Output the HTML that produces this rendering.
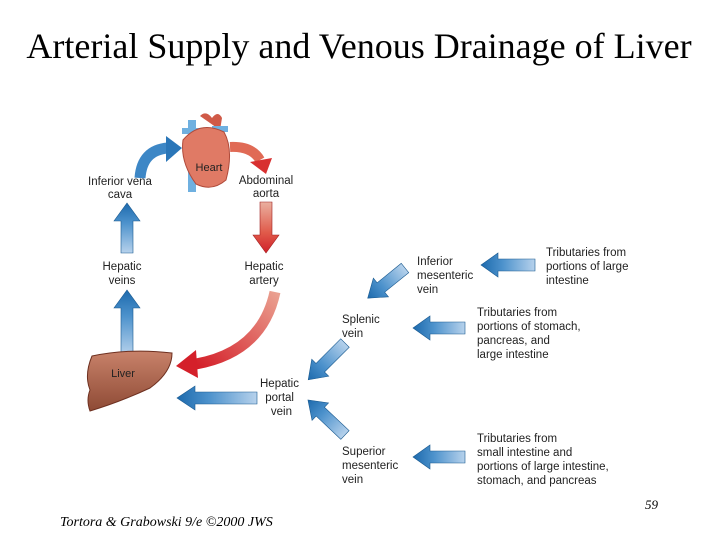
<!DOCTYPE html>
<html><head><meta charset="utf-8"><style>
html,body{margin:0;padding:0;background:#fff}
svg{display:block}
.t{font-family:"Liberation Sans",Arial,sans-serif;font-size:11.5px;fill:#222}
</style></head><body>
<svg width="720" height="540" viewBox="0 0 720 540" xmlns="http://www.w3.org/2000/svg">
<defs>
<linearGradient id="b" x1="0" y1="0" x2="1" y2="0"><stop offset="0" stop-color="#b7d2ec"/><stop offset="0.6" stop-color="#4d92cc"/><stop offset="1" stop-color="#1d6aad"/></linearGradient>
<linearGradient id="r" x1="0" y1="0" x2="1" y2="0"><stop offset="0" stop-color="#eab0a0"/><stop offset="0.6" stop-color="#e05a4a"/><stop offset="1" stop-color="#d0202a"/></linearGradient>
<linearGradient id="rc" x1="1" y1="0" x2="0" y2="1"><stop offset="0" stop-color="#eaa090"/><stop offset="1" stop-color="#d4202a"/></linearGradient>
<linearGradient id="lv" x1="0" y1="0" x2="0" y2="1"><stop offset="0" stop-color="#c8826a"/><stop offset="1" stop-color="#8e4a35"/></linearGradient>
</defs>
<text x="359" y="58" text-anchor="middle" font-family="Liberation Serif,serif" font-size="36" fill="#000">Arterial Supply and Venous Drainage of Liver</text>

<g transform="translate(127,253) rotate(-90)"><polygon points="0,-6 32,-6 32,-13 50,0 32,13 32,6 0,6" fill="url(#b)" stroke="#1a5a90" stroke-width="0.6"/></g>
<g transform="translate(127,355) rotate(-90)"><polygon points="0,-6 47,-6 47,-13 65,0 47,13 47,6 0,6" fill="url(#b)" stroke="#1a5a90" stroke-width="0.6"/></g>
<g transform="translate(266,202) rotate(90)"><polygon points="0,-6 33,-6 33,-13 51,0 33,13 33,6 0,6" fill="url(#r)" stroke="#a02020" stroke-width="0.6"/></g>
<g transform="translate(257,398) rotate(180)"><polygon points="0,-6 62,-6 62,-12 80,0 62,12 62,6 0,6" fill="url(#b)" stroke="#1a5a90" stroke-width="0.6"/></g>
<g transform="translate(405,268) rotate(141)"><polygon points="0,-6 31,-6 31,-12 48,0 31,12 31,6 0,6" fill="url(#b)" stroke="#1a5a90" stroke-width="0.6"/></g>
<g transform="translate(535,265) rotate(180)"><polygon points="0,-6 37,-6 37,-12 54,0 37,12 37,6 0,6" fill="url(#b)" stroke="#1a5a90" stroke-width="0.6"/></g>
<g transform="translate(345,343) rotate(135)"><polygon points="0,-6 35,-6 35,-12 52,0 35,12 35,6 0,6" fill="url(#b)" stroke="#1a5a90" stroke-width="0.6"/></g>
<g transform="translate(465,328) rotate(180)"><polygon points="0,-6 35,-6 35,-12 52,0 35,12 35,6 0,6" fill="url(#b)" stroke="#1a5a90" stroke-width="0.6"/></g>
<g transform="translate(345,435) rotate(223.4)"><polygon points="0,-6 34,-6 34,-12 51,0 34,12 34,6 0,6" fill="url(#b)" stroke="#1a5a90" stroke-width="0.6"/></g>
<g transform="translate(465,457) rotate(180)"><polygon points="0,-6 35,-6 35,-12 52,0 35,12 35,6 0,6" fill="url(#b)" stroke="#1a5a90" stroke-width="0.6"/></g>

<path d="M140,178 Q142,150 168,148" fill="none" stroke="#3d87c6" stroke-width="11"/>
<polygon points="166,136 182,148 166,162" fill="#2a76b8"/>
<path d="M230,147 Q252,146 260,160" fill="none" stroke="#e06a55" stroke-width="10"/>
<polygon points="250,162 272,158 266,174" fill="#d83030"/>
<path d="M275,292 Q262,352 196,364" fill="none" stroke="url(#rc)" stroke-width="11"/>
<polygon points="196,350 176,366 198,378" fill="#d4202a"/>

<rect x="188" y="120" width="8" height="72" fill="#6fb0e0"/>
<rect x="182" y="128" width="18" height="6" fill="#6fb0e0"/>
<path d="M200,116 q6,-6 12,2 q6,-8 10,0 l-2,12 z" fill="#d05a48"/>
<rect x="212" y="126" width="16" height="6" fill="#6fb0e0"/>
<path d="M183,140 Q200,120 224,132 Q234,150 226,180 Q212,192 196,184 Q180,162 183,140 Z" fill="#e07a65" stroke="#b04a3a" stroke-width="1"/>
<text x="209" y="171" text-anchor="middle" class="t" style="font-size:11px">Heart</text>

<path d="M92,356 Q130,348 172,353 Q172,372 150,388 Q120,402 90,411 Q86,400 90,390 Q84,375 92,356 Z" fill="url(#lv)" stroke="#6e3020" stroke-width="1"/>
<text x="123" y="377" text-anchor="middle" class="t" style="font-size:11px">Liver</text>

<g class="t" text-anchor="middle">
<text x="120" y="185">Inferior vena</text><text x="120" y="198">cava</text>
<text x="266" y="184">Abdominal</text><text x="266" y="197">aorta</text>
<text x="122" y="270">Hepatic</text><text x="122" y="284">veins</text>
<text x="264" y="270">Hepatic</text><text x="264" y="284">artery</text>
</g>
<g class="t" text-anchor="end">
<text x="299" y="387">Hepatic</text><text x="294" y="401">portal</text><text x="292" y="415">vein</text>
</g>
<g class="t">
<text x="417" y="265">Inferior</text><text x="417" y="279">mesenteric</text><text x="417" y="293">vein</text>
<text x="546" y="256">Tributaries from</text><text x="546" y="270">portions of large</text><text x="546" y="284">intestine</text>
<text x="342" y="323">Splenic</text><text x="342" y="337">vein</text>
<text x="477" y="316">Tributaries from</text><text x="477" y="330">portions of stomach,</text><text x="477" y="344">pancreas, and</text><text x="477" y="358">large intestine</text>
<text x="342" y="455">Superior</text><text x="342" y="469">mesenteric</text><text x="342" y="483">vein</text>
<text x="477" y="442">Tributaries from</text><text x="477" y="456">small intestine and</text><text x="477" y="470">portions of large intestine,</text><text x="477" y="484">stomach, and pancreas</text>
</g>
<text x="658" y="509" text-anchor="end" font-family="Liberation Serif,serif" font-style="italic" font-size="13">59</text>
<text x="60" y="526" font-family="Liberation Serif,serif" font-style="italic" font-size="14">Tortora &amp; Grabowski 9/e ©2000 JWS</text>
</svg>
</body></html>
